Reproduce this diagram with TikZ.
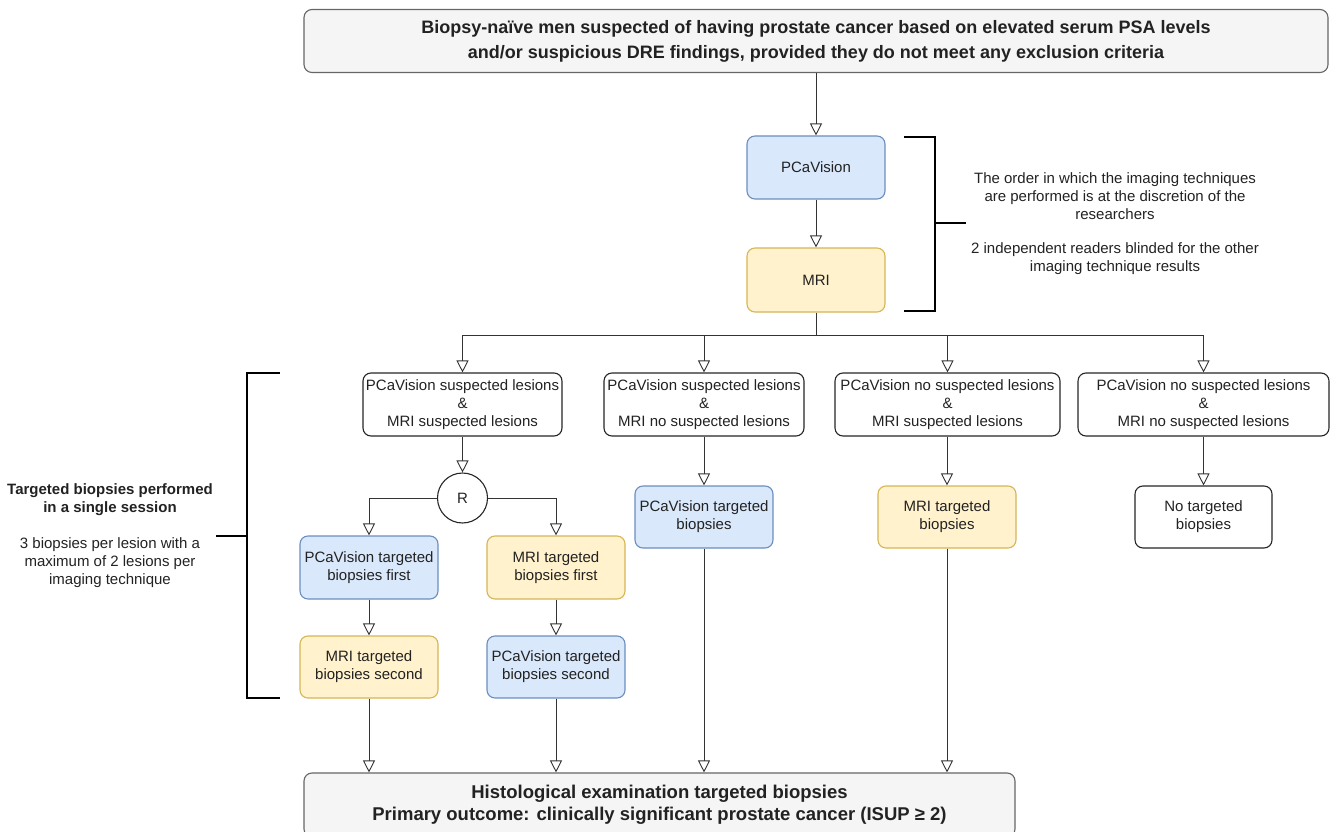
\documentclass[tikz,border=0pt]{standalone}
\usepackage{fontspec}
\setmainfont{Liberation Sans}
\usetikzlibrary{arrows.meta,positioning}
\definecolor{bluefill}{HTML}{DAE8FC}
\definecolor{bluedraw}{HTML}{6C8EBF}
\definecolor{yelfill}{HTML}{FFF2CC}
\definecolor{yeldraw}{HTML}{D6B656}
\definecolor{grayfill}{HTML}{F5F5F5}
\definecolor{graydraw}{HTML}{666666}
\definecolor{txt}{HTML}{222222}
\tikzset{
  base/.style={rounded corners=8pt, align=center, inner sep=2pt, text=txt,
    font=\fontsize{15}{18}\selectfont, line width=1.1pt},
  bluebox/.style={base, draw=bluedraw, fill=bluefill},
  yelbox/.style={base, draw=yeldraw, fill=yelfill},
  whitebox/.style={base, draw=black!85, fill=white},
  graybox/.style={base, draw=graydraw, fill=grayfill, font=\bfseries\fontsize{18}{25}\selectfont},
  arr/.style={draw=black!80, line width=0.9pt, -{Triangle[open,length=12pt,width=12pt]}},
  ln/.style={draw=black!80, line width=0.9pt},
  brk/.style={draw=black, line width=2.4pt},
  note/.style={align=center, text=txt, font=\fontsize{15}{18}\selectfont, inner sep=0pt},
}
\begin{document}
\begin{tikzpicture}[x=1pt,y=-1pt]
\useasboundingbox (0,0) rectangle (1331,832);

% top and bottom
\node[graybox, minimum width=1024pt, minimum height=63pt] (top) at (816,41)
  {Biopsy-naïve men suspected of having prostate cancer based on elevated serum PSA levels\\and/or suspicious DRE findings, provided they do not meet any exclusion criteria};
\node[graybox, font=\bfseries\fontsize{18.5}{21.5}\selectfont, minimum width=711pt, minimum height=64pt] (bot) at (659.5,805)
  {Histological examination targeted biopsies\\Primary outcome: clinically significant prostate cancer (ISUP ≥ 2)};

% imaging
\node[bluebox, minimum width=138pt, minimum height=63pt] (pca) at (816,167.5) {PCaVision};
\node[yelbox, minimum width=138pt, minimum height=64pt] (mri) at (816,280) {MRI};
\draw[arr] (top.south -| pca.north) -- (pca.north);
\draw[arr] (pca) -- (mri);

% right bracket + notes
\coordinate (rb1) at (904,137);
\coordinate (rb2) at (935,137);
\coordinate (rb3) at (935,311);
\coordinate (rb4) at (904,311);
\coordinate (rbm) at (935,223);
\coordinate (rbt) at (966,223);
\draw[brk] (rb1) -- (rb2) -- (rb3) -- (rb4);
\draw[brk] (rbm) -- (rbt);
\node[note] (n1) at (1115,196) {The order in which the imaging techniques\\are performed is at the discretion of the\\researchers};
\node[note] (n2) at (1115,259) {2 independent readers blinded for the other\\imaging technique results};

% conditions
\node[whitebox, minimum width=199pt, minimum height=63pt] (c1) at (462.5,404.5) {PCaVision suspected lesions\\\&\\MRI suspected lesions};
\node[whitebox, minimum width=200pt, minimum height=63pt] (c2) at (704,404.5) {PCaVision suspected lesions\\\&\\MRI no suspected lesions};
\node[whitebox, minimum width=225pt, minimum height=63pt] (c3) at (947.5,404.5) {PCaVision no suspected lesions\\\&\\MRI suspected lesions};
\node[whitebox, minimum width=251pt, minimum height=63pt] (c4) at (1203.5,404.5) {PCaVision no suspected lesions\\\&\\MRI no suspected lesions};

\coordinate (bus) at (816,335);
\draw[ln] (mri.south) -- (bus);
\draw[arr] (bus) -| (c1.north);
\draw[arr] (bus) -| (c2.north);
\draw[arr] (bus) -| (c3.north);
\draw[arr] (bus) -| (c4.north);

% randomisation
\node[circle, draw=black!85, line width=1.1pt, minimum size=50pt, inner sep=0pt, text=txt, font=\fontsize{15}{18}\selectfont] (R) at (462.5,498) {R};
\draw[arr] (c1) -- (R);

\node[bluebox, minimum width=138pt, minimum height=63pt] (pf1) at (369,567.5) {PCaVision targeted\\biopsies first};
\node[yelbox, minimum width=138pt, minimum height=63pt] (mf1) at (556,567.5) {MRI targeted\\biopsies first};
\node[yelbox, minimum width=138pt, minimum height=62pt] (ms2) at (369,667) {MRI targeted\\biopsies second};
\node[bluebox, minimum width=138pt, minimum height=62pt] (ps2) at (556,667) {PCaVision targeted\\biopsies second};
\draw[arr] (R.west) -| (pf1.north);
\draw[arr] (R.east) -| (mf1.north);
\draw[arr] (pf1) -- (ms2);
\draw[arr] (mf1) -- (ps2);

\node[bluebox, minimum width=138pt, minimum height=62pt] (pt) at (704,517) {PCaVision targeted\\biopsies};
\node[yelbox, minimum width=138pt, minimum height=62pt] (mt) at (947,517) {MRI targeted\\biopsies};
\node[whitebox, minimum width=137pt, minimum height=62pt] (nt) at (1203.5,517) {No targeted\\biopsies};
\draw[arr] (c2.south -| pt.north) -- (pt.north);
\draw[arr] (c3.south -| mt.north) -- (mt.north);
\draw[arr] (c4.south -| nt.north) -- (nt.north);

% to bottom
\draw[arr] (ms2.south) -- (ms2.south |- bot.north);
\draw[arr] (ps2.south) -- (ps2.south |- bot.north);
\draw[arr] (pt.south) -- (pt.south |- bot.north);
\draw[arr] (mt.south) -- (mt.south |- bot.north);

% left bracket + notes
\coordinate (lb1) at (280,373);
\coordinate (lb2) at (247,373);
\coordinate (lb3) at (247,698);
\coordinate (lb4) at (280,698);
\coordinate (lbm) at (247,536);
\coordinate (lbt) at (216,536);
\draw[brk] (lb1) -- (lb2) -- (lb3) -- (lb4);
\draw[brk] (lbm) -- (lbt);
\node[note, font=\bfseries\fontsize{15}{18}\selectfont] (l1) at (110,500) {Targeted biopsies performed\\in a single session};
\node[note] (l2) at (110,563) {3 biopsies per lesion with a\\maximum of 2 lesions per\\imaging technique};
\end{tikzpicture}
\end{document}
